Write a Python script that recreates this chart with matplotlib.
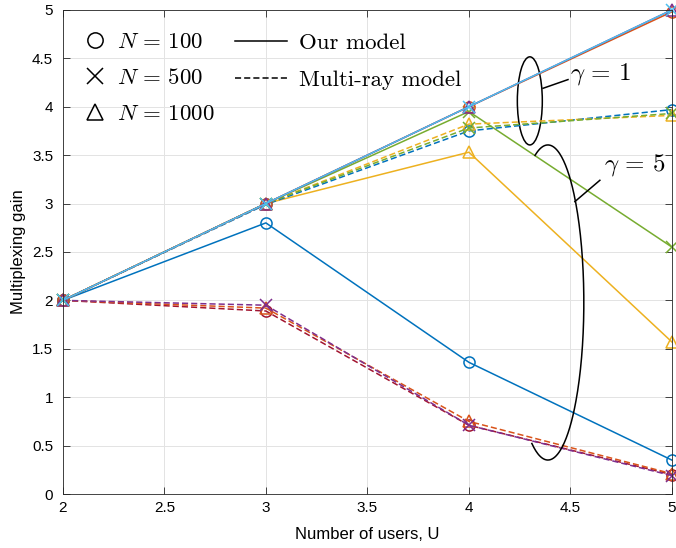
import numpy as np
import matplotlib
matplotlib.use("Agg")
import matplotlib.pyplot as plt
from matplotlib.lines import Line2D
from matplotlib.patches import Ellipse

plt.rcParams["mathtext.fontset"] = "cm"
plt.rcParams["font.family"] = ["Liberation Sans", "DejaVu Sans"]

# MATLAB default colour order
BLUE, ORANGE, YELLOW, PURPLE = "#0072BD", "#D95319", "#EDB120", "#7E2F8E"
GREEN, LBLUE, DRED = "#77AC30", "#4DBEEE", "#A2142F"

users = [2, 3, 4, 5]

# gamma = 5, multi-ray model (dashed, falling)
g5_ray_n100 = [2.0, 1.89, 0.71, 0.20]
g5_ray_n500 = [2.0, 1.95, 0.71, 0.19]
g5_ray_n1000 = [2.0, 1.92, 0.75, 0.21]
# gamma = 5, our model (solid)
g5_our_n100 = [2.0, 2.80, 1.36, 0.35]
g5_our_n500 = [2.0, 3.00, 3.95, 2.55]
g5_our_n1000 = [2.0, 3.00, 3.53, 1.57]
# gamma = 1, multi-ray model (dashed)
g1_ray_n100 = [2.0, 2.99, 3.75, 3.97]
g1_ray_n500 = [2.0, 3.00, 3.78, 3.93]
g1_ray_n1000 = [2.0, 3.00, 3.82, 3.91]
# gamma = 1, our model (solid)
g1_our_n100 = [2.0, 3.00, 4.00, 4.98]
g1_our_n500 = [2.0, 3.00, 4.00, 5.00]
g1_our_n1000 = [2.0, 3.00, 4.00, 5.00]

series = [
    (g5_ray_n100, DRED, "o", "--"),
    (g5_ray_n1000, ORANGE, "^", "--"),
    (g5_ray_n500, PURPLE, "x", "--"),
    (g5_our_n100, BLUE, "o", "-"),
    (g5_our_n1000, YELLOW, "^", "-"),
    (g5_our_n500, GREEN, "x", "-"),
    (g1_ray_n100, BLUE, "o", "--"),
    (g1_ray_n1000, YELLOW, "^", "--"),
    (g1_ray_n500, GREEN, "x", "--"),
    (g1_our_n100, ORANGE, "o", "-"),
    (g1_our_n1000, PURPLE, "^", "-"),
    (g1_our_n500, LBLUE, "x", "-"),
]

fig = plt.figure(figsize=(6.76, 5.48), dpi=100)
ax = fig.add_axes([0.093, 0.0985, 0.901, 0.8835])

for y, c, m, ls in series:
    ax.plot(users, y, ls=ls, marker=m, color=c, lw=1.1, ms=8,
            mfc="none", mew=1.1, clip_on=False,
            dashes=(4, 2) if ls == "--" else (None, None))

ax.set_xlim(2, 5)
ax.set_ylim(0, 5)
ax.set_xticks([2, 2.5, 3, 3.5, 4, 4.5, 5])
ax.set_xticklabels(["2", "2.5", "3", "3.5", "4", "4.5", "5"])
ax.set_yticks([0, 0.5, 1, 1.5, 2, 2.5, 3, 3.5, 4, 4.5, 5])
ax.set_yticklabels(["0", "0.5", "1", "1.5", "2", "2.5", "3", "3.5", "4", "4.5", "5"])
ax.tick_params(direction="in", top=True, right=True, labelsize=11,
               color="#262626", length=5, width=0.6)
ax.tick_params(axis="x", pad=5)
ax.tick_params(axis="y", pad=7)
for s in ax.spines.values():
    s.set_color("#262626")
    s.set_linewidth(0.6)
ax.grid(True, color="#e3e3e3", lw=0.7)
ax.set_axisbelow(True)
ax.set_xlabel("Number of users, U", fontsize=12, labelpad=9)
ax.set_ylabel("Multiplexing gain", fontsize=12, labelpad=4)

# gamma = 1 callout: closed ellipse
ax.add_patch(Ellipse((4.30, 4.06), 0.123, 0.91, fill=False, ec="k", lw=1.1))
ax.plot([4.365, 4.488], [4.19, 4.28], color="k", lw=1.1)
ax.text(4.50, 4.34, r"$\gamma\,=\,1$", fontsize=18, va="center", ha="left")
# gamma = 5 callout: open arc (left side missing)
t = np.linspace(np.deg2rad(-116.5), np.deg2rad(111), 200)
ax.plot(4.389 + 0.177 * np.cos(t), 1.978 + 1.627 * np.sin(t), color="k", lw=1.1)
ax.plot([4.522, 4.645], [3.02, 3.24], color="k", lw=1.1)
ax.text(4.665, 3.40, r"$\gamma\,=\,5$", fontsize=18, va="center", ha="left")

# legends
mk = [Line2D([], [], ls="none", marker=m, color="k", mfc="none", ms=11, mew=1.1)
      for m in ["o", "x", "^"]]
leg1 = ax.legend(mk, [r"$N\,=\,100$", r"$N\,=\,500$", r"$N\,=\,1000$"],
                 loc="upper left", bbox_to_anchor=(0.0, 1.0), frameon=False,
                 fontsize=16.5, handlelength=1.0, handletextpad=0.46,
                 labelspacing=0.55, borderaxespad=0.5)
ax.add_artist(leg1)
ln = [Line2D([], [], ls="-", color="k", lw=1.1),
      Line2D([], [], ls="--", color="k", lw=1.1, dashes=(4, 2))]
ax.legend(ln, ["Our model", "Multi-ray model"], loc="upper left",
          bbox_to_anchor=(0.2455, 1.0), frameon=False,
          prop={"family": "cmr10", "size": 16.5},
          handlelength=2.27, handletextpad=0.52, labelspacing=0.75,
          borderaxespad=0.6)

fig.savefig("out.png", dpi=100)
